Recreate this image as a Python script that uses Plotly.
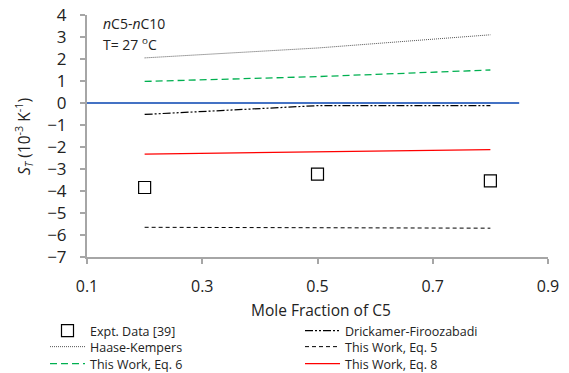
import plotly.graph_objects as go

x_pts = [0.2, 0.5, 0.8]
expt = [-3.84, -3.23, -3.54]
drickamer = [-0.52, -0.12, -0.12]
haase = [2.05, 2.5, 3.1]
eq5 = [-5.65, -5.67, -5.69]
eq6 = [0.98, 1.2, 1.5]
eq8 = [-2.32, -2.22, -2.12]
zero_x = [0.1, 0.85]
zero_y = [0, 0]

FONT = "Open Sans"
L, R, T, B = 87, 21, 15, 116
W, H = 569, 373
PW, PH = W - L - R, H - T - B


def px(xp):
    return (xp - L) / PW


def py(yp):
    return (H - B - yp) / PH


fig = go.Figure()
fig.add_trace(go.Scatter(x=zero_x, y=zero_y, mode="lines", line=dict(color="#4472C4", width=2), showlegend=False))
fig.add_trace(go.Scatter(x=x_pts, y=expt, mode="markers", name="Expt. Data [39]", legend="legend",
                         marker=dict(symbol="square-open", size=12, color="black", line=dict(width=1.2))))
fig.add_trace(go.Scatter(x=x_pts, y=drickamer, mode="lines", name="Drickamer-Firoozabadi", legend="legend2",
                         line=dict(color="black", width=1.2, dash="8px,2px,2px,2px,2px,2px")))
fig.add_trace(go.Scatter(x=x_pts, y=haase, mode="lines", name="Haase-Kempers", legend="legend3",
                         line=dict(color="#555555", width=1, dash="1px,1px")))
fig.add_trace(go.Scatter(x=x_pts, y=eq5, mode="lines", name="This Work, Eq. 5", legend="legend4",
                         line=dict(color="black", width=1, dash="4px,3px")))
fig.add_trace(go.Scatter(x=x_pts, y=eq6, mode="lines", name="This Work, Eq. 6", legend="legend5",
                         line=dict(color="#00B050", width=1.3, dash="7px,4px")))
fig.add_trace(go.Scatter(x=x_pts, y=eq8, mode="lines", name="This Work, Eq. 8", legend="legend6",
                         line=dict(color="#FF0000", width=1.2)))

leg_pos = {
    "legend": (45, 331), "legend2": (300, 331),
    "legend3": (45, 347), "legend4": (300, 347),
    "legend5": (45, 364), "legend6": (300, 364),
}
legends = {}
for k, (lx, ly) in leg_pos.items():
    legends[k] = dict(x=px(lx), xanchor="left", y=py(ly), yanchor="middle", orientation="v",
                      font=dict(size=12.5, family=FONT, color="#222222"), itemwidth=35,
                      bgcolor="rgba(0,0,0,0)", borderwidth=0)

fig.update_layout(
    width=W, height=H,
    margin=dict(l=L, r=R, t=T, b=B, autoexpand=False),
    plot_bgcolor="white", paper_bgcolor="white",
    font=dict(family=FONT, size=14, color="#222222"),
    xaxis=dict(range=[0.1, 0.9], tickvals=[0.1, 0.3, 0.5, 0.7, 0.9], ticktext=["0.1", "0.3", "0.5", "0.7", "0.9"],
               showgrid=False, zeroline=False, showline=True, linecolor="#A6A6A6", linewidth=2,
               ticks="outside", ticklen=5, tickcolor="#A6A6A6", tickwidth=1.5,
               ticklabelstandoff=9, tickfont=dict(size=16, family=FONT)),
    yaxis=dict(range=[-7, 4], dtick=1, showgrid=False, zeroline=False, showline=True,
               linecolor="#A6A6A6", linewidth=2, ticks="outside", ticklen=5, tickcolor="#A6A6A6",
               tickwidth=1.5, ticklabelstandoff=10, tickfont=dict(size=17, family=FONT)),
    showlegend=True,
    **legends,
)
fig.add_annotation(text="Mole Fraction of C5", xref="paper", yref="paper", x=px(321), y=py(310),
                   showarrow=False, font=dict(size=15.5, family=FONT), xanchor="center", yanchor="middle")
fig.add_annotation(text="<i>S<sub>T</sub></i> (10<sup>-3</sup> K<sup>-1</sup>)", xref="paper", yref="paper",
                   x=px(23), y=py(137), textangle=-90, showarrow=False,
                   font=dict(size=15.5, family=FONT), xanchor="center", yanchor="middle")
fig.add_annotation(text="<i>n</i>C5-<i>n</i>C10", xref="paper", yref="paper", x=px(101), y=py(24),
                   showarrow=False, font=dict(size=14, family=FONT), xanchor="left", yanchor="middle")
fig.add_annotation(text="T= 27 <sup>o</sup>C", xref="paper", yref="paper", x=px(101), y=py(44),
                   showarrow=False, font=dict(size=14, family=FONT), xanchor="left", yanchor="middle")

fig.write_html("out.html", config={"displayModeBar": False},
               post_script="document.body.style.margin='0';")
